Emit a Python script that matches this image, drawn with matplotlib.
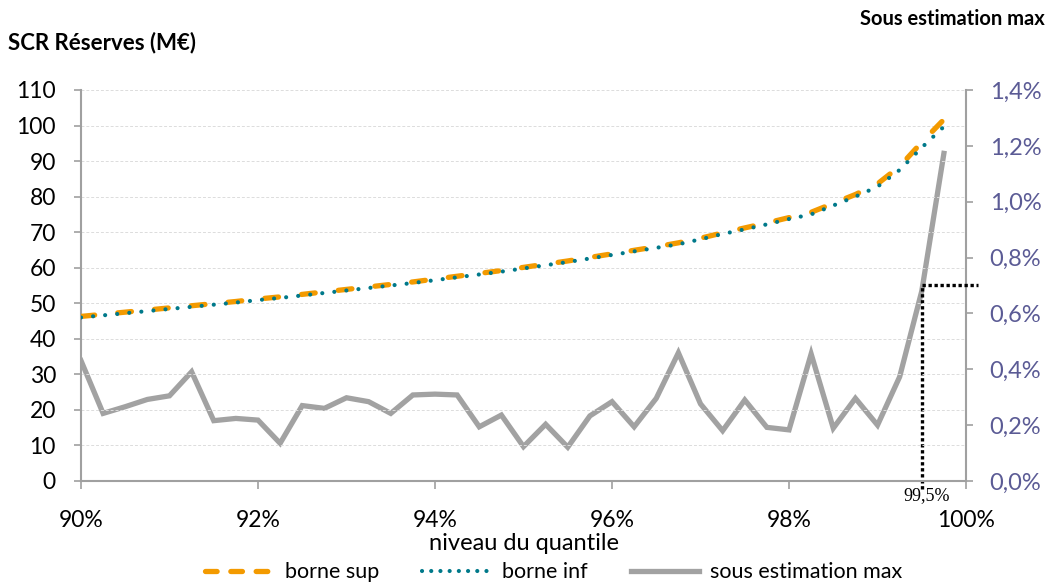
import matplotlib
matplotlib.use("Agg")
import matplotlib.pyplot as plt
from matplotlib.ticker import FuncFormatter, MultipleLocator
from matplotlib.lines import Line2D

plt.rcParams['font.family'] = ['Lato', 'DejaVu Sans']

# Quantile levels (%)
quantiles = [90.00, 90.25, 90.50, 90.75, 91.00, 91.25, 91.50, 91.75,
             92.00, 92.25, 92.50, 92.75, 93.00, 93.25, 93.50, 93.75,
             94.00, 94.25, 94.50, 94.75, 95.00, 95.25, 95.50, 95.75,
             96.00, 96.25, 96.50, 96.75, 97.00, 97.25, 97.50, 97.75,
             98.00, 98.25, 98.50, 98.75, 99.00, 99.25, 99.50, 99.75]

# SCR reserves, upper bound (M€)
borne_sup = [46.3, 46.9, 47.5, 48.1, 48.7, 49.3, 49.9, 50.5,
             51.2, 51.8, 52.5, 53.2, 53.9, 54.6, 55.3, 56.0,
             56.8, 57.6, 58.4, 59.2, 60.1, 61.0, 61.9, 62.9,
             63.9, 64.9, 65.9, 67.0, 68.3, 69.8, 71.2, 72.6,
             74.1, 75.6, 78.1, 80.6, 83.6, 88.5, 95.3, 101.7]

# SCR reserves, lower bound (M€)
borne_inf = [46.0, 46.6, 47.2, 47.8, 48.4, 49.0, 49.6, 50.2,
             50.9, 51.5, 52.2, 52.9, 53.6, 54.3, 55.0, 55.7,
             56.5, 57.3, 58.1, 58.9, 59.8, 60.7, 61.6, 62.6,
             63.6, 64.6, 65.6, 66.6, 68.0, 69.5, 70.8, 72.2,
             73.7, 75.0, 77.5, 80.0, 82.8, 87.5, 93.8, 99.7]

# Maximum underestimation (%)
sous_estimation = [0.431, 0.242, 0.266, 0.292, 0.305, 0.391, 0.216, 0.224,
                   0.218, 0.135, 0.270, 0.260, 0.298, 0.284, 0.242, 0.308,
                   0.311, 0.308, 0.194, 0.236, 0.123, 0.203, 0.121, 0.233,
                   0.284, 0.194, 0.296, 0.459, 0.276, 0.180, 0.290, 0.192,
                   0.183, 0.455, 0.189, 0.296, 0.200, 0.373, 0.680, 1.173]

# Reference level and threshold
ref_quantile = 99.5
ref_value = 0.70

ORANGE = '#F39A00'
TEAL = '#00798A'
GREY = '#A2A2A2'
AXIS = '#A0A0A0'
RIGHT_TXT = '#5B5B95'

fig = plt.figure(figsize=(10.49, 5.84), dpi=100)
ax = fig.add_axes([0.0772, 0.1764, 0.8437, 0.6695])
ax2 = ax.twinx()

ax.set_xlim(90, 100)
ax.set_ylim(0, 110)
ax2.set_ylim(0, 1.4)

ax.yaxis.set_major_locator(MultipleLocator(10))
ax.xaxis.set_major_locator(MultipleLocator(2))
ax2.yaxis.set_major_locator(MultipleLocator(0.2))

ax.grid(axis='y', color='#DCDCDC', linestyle=(0, (3, 2)), linewidth=0.7)
ax.set_axisbelow(True)

for a in (ax, ax2):
    for s in a.spines.values():
        s.set_visible(False)
ax.spines['left'].set_visible(True)
ax.spines['bottom'].set_visible(True)
ax2.spines['right'].set_visible(True)
for s in (ax.spines['left'], ax.spines['bottom'], ax2.spines['right']):
    s.set_color(AXIS)
    s.set_linewidth(1.5)

ax.tick_params(axis='y', direction='out', length=5, width=1.2, color=AXIS,
               labelsize=16.5, pad=13)
ax.tick_params(axis='x', direction='out', length=6, width=1.2, color=AXIS,
               labelsize=16.5, pad=15)
ax2.tick_params(axis='y', direction='out', length=5, width=1.2, color=AXIS,
                labelsize=17, labelcolor=RIGHT_TXT, pad=12)

ax.xaxis.set_major_formatter(FuncFormatter(lambda v, p: f"{v:.0f}%"))
ax2.yaxis.set_major_formatter(FuncFormatter(lambda v, p: f"{v:.1f}%".replace('.', ',')))

# Underestimation on the secondary axis
ax2.plot(quantiles, sous_estimation, color=GREY, linewidth=3.8,
         solid_joinstyle='miter', zorder=2)

# Bounds on the primary axis
ax.plot(quantiles, borne_sup, color=ORANGE, linewidth=3.8,
        linestyle=(0, (2.6, 4.4)), dash_capstyle='round', zorder=3)
ax.plot(quantiles, borne_inf, color=TEAL, linewidth=3.0,
        linestyle=(0, (0.01, 2.9)), dash_capstyle='round', zorder=4)
ax.set_zorder(ax2.get_zorder() + 1)
ax.patch.set_visible(False)

# 99.5% marker
ax2.plot([ref_quantile, ref_quantile], [-0.03, ref_value], color='black',
         linewidth=2.4, linestyle=(0, (1.0, 0.8)), clip_on=False, zorder=5)
ax2.plot([ref_quantile, 100.14], [ref_value, ref_value], color='black',
         linewidth=2.4, linestyle=(0, (1.0, 0.8)), clip_on=False, zorder=5)
ax2.text(ref_quantile + 0.05, -0.022, "99,5%", ha='center', va='top',
         fontsize=13, family='Liberation Serif')

ax.set_xlabel("niveau du quantile", fontsize=17, labelpad=1)

fig.text(0.008, 0.928, "SCR Réserves (M€)", fontsize=16, fontweight='bold',
         ha='left', va='center')
fig.text(0.996, 0.968, "Sous estimation max", fontsize=14.5, fontweight='bold',
         ha='right', va='center')

handles = [
    Line2D([], [], color=ORANGE, linewidth=3.8, linestyle=(0, (2.2, 2.6)),
           dash_capstyle='round'),
    Line2D([], [], color=TEAL, linewidth=3.0, linestyle=(0, (0.01, 2.2)),
           dash_capstyle='round'),
    Line2D([], [], color=GREY, linewidth=3.8),
]
fig.legend(handles, ["borne sup", "borne inf", "sous estimation max"],
           loc='lower center', bbox_to_anchor=(0.528, -0.03), ncol=3,
           frameon=False, fontsize=15.5, handlelength=3.2, columnspacing=2.0,
           handletextpad=0.5)

fig.savefig("out.png", dpi=100)
